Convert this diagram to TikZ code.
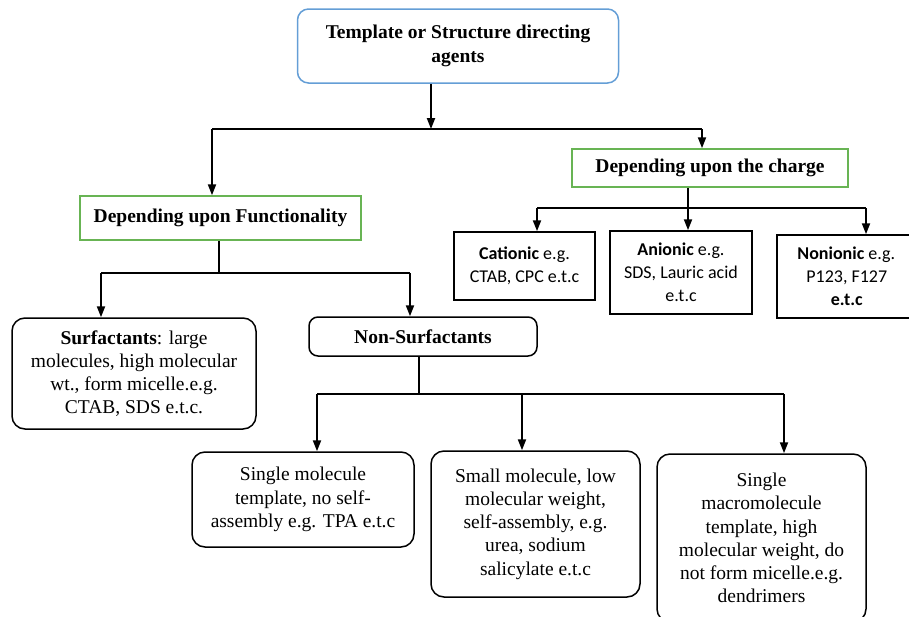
\documentclass[tikz,border=0pt]{standalone}
\usepackage{fontspec}
\setmainfont{Liberation Serif}
\newfontfamily\calfont{Carlito}
\usetikzlibrary{arrows.meta,calc}
\definecolor{boxblue}{RGB}{100,158,214}
\definecolor{boxgreen}{RGB}{104,180,84}
\begin{document}
\begin{tikzpicture}[x=1pt,y=-1pt,
  conn/.style={line width=2pt,black},
  arr/.style={conn,-{Triangle[length=11pt,width=8pt]}},
  base/.style={line width=1.5pt,align=center,inner sep=0pt,font=\fontsize{19.5}{23.2}\selectfont},
  topbox/.style={base,draw=boxblue,rounded corners=11pt,font=\bfseries\fontsize{19.5}{24}\selectfont},
  greenbox/.style={base,draw=boxgreen,font=\bfseries\fontsize{19.5}{24}\selectfont},
  chargebox/.style={base,draw=black,font=\calfont\fontsize{18}{23}\selectfont},
  roundbox/.style={base,draw=black,rounded corners=13pt}
]
\useasboundingbox (0,0) rectangle (909,616);
% nodes
\node[topbox,minimum width=321pt,minimum height=74pt] (top) at (458,46) {Template or Structure directing\\agents};
\node[greenbox,minimum width=281pt,minimum height=44pt] (func) at (220.5,218) {Depending upon Functionality};
\node[greenbox,minimum width=276pt,minimum height=38pt] (charge) at (710,168) {Depending upon the charge};
\node[chargebox,minimum width=141pt,minimum height=68pt] (cat) at (524.5,266) {\textbf{Cationic} e.g.\\CTAB, CPC e.t.c};
\node[chargebox,minimum width=142pt,minimum height=83pt] (an) at (681,272.5) {\textbf{Anionic} e.g.\\SDS, Lauric acid\\e.t.c};
\node[chargebox,minimum width=140pt,minimum height=83pt,anchor=west] (non) at (776,276.5) {\hspace*{-1pt}\textbf{Nonionic} e.g.\\P123, F127\\\textbf{e.t.c}};
\node[roundbox,minimum width=244pt,minimum height=111pt] (surf) at (134,373.5) {\textbf{Surfactants}: large\\molecules, high molecular\\wt., form micelle.e.g.\\CTAB, SDS e.t.c.};
\node[roundbox,rounded corners=9pt,minimum width=228pt,minimum height=39pt,font=\bfseries\fontsize{19.5}{24}\selectfont] (nons) at (423,336.5) {Non-Surfactants};
\node[roundbox,minimum width=222pt,minimum height=95pt] (b1) at (303,499.5) {Single molecule\\template, no self-\\assembly e.g. TPA e.t.c};
\node[roundbox,minimum width=209pt,minimum height=146pt] (b2) at (535.5,524) {Small molecule, low\\molecular weight,\\self-assembly, e.g.\\urea, sodium\\salicylate e.t.c};
\node[roundbox,minimum width=209pt,minimum height=168pt] (b3) at (761.5,538) {Single\\macromolecule\\template, high\\molecular weight, do\\not form micelle.e.g.\\dendrimers};
% junction coordinates
\coordinate (j1) at (431,129);
\coordinate (j1l) at (212,129);
\coordinate (j1r) at (702,129);
\coordinate (j2) at (219,273);
\coordinate (j2l) at (101,273);
\coordinate (j2r) at (410,273);
\coordinate (j3) at (688,208);
\coordinate (j3l) at (537,208);
\coordinate (j3r) at (866,208);
\coordinate (j4) at (419,394);
\coordinate (j4l) at (317,394);
\coordinate (j4m) at (522,394);
\coordinate (j4r) at (784,394);
% connectors
\draw[arr] (top.south -| j1) -- (j1);
\draw[conn] (j1l) -- (j1r);
\draw[arr] (j1l) -- (func.north -| j1l);
\draw[arr] (j1r) -- (charge.north -| j1r);
\draw[conn] (func.south -| j2) -- (j2);
\draw[conn] (j2l) -- (j2r);
\draw[arr] (j2l) -- (surf.north -| j2l);
\draw[arr] (j2r) -- (nons.north -| j2r);
\draw[conn] (charge.south -| j3) -- (j3);
\draw[conn] (j3l) -- (j3r);
\draw[arr] (j3l) -- (cat.north -| j3l);
\draw[arr] (j3) -- (an.north -| j3);
\draw[arr] (j3r) -- (non.north -| j3r);
\draw[conn] (nons.south -| j4) -- (j4);
\draw[conn] (j4l) -- (j4r);
\draw[arr] (j4l) -- (b1.north -| j4l);
\draw[arr] (j4m) -- (b2.north -| j4m);
\draw[arr] (j4r) -- (b3.north -| j4r);
\end{tikzpicture}
\end{document}
